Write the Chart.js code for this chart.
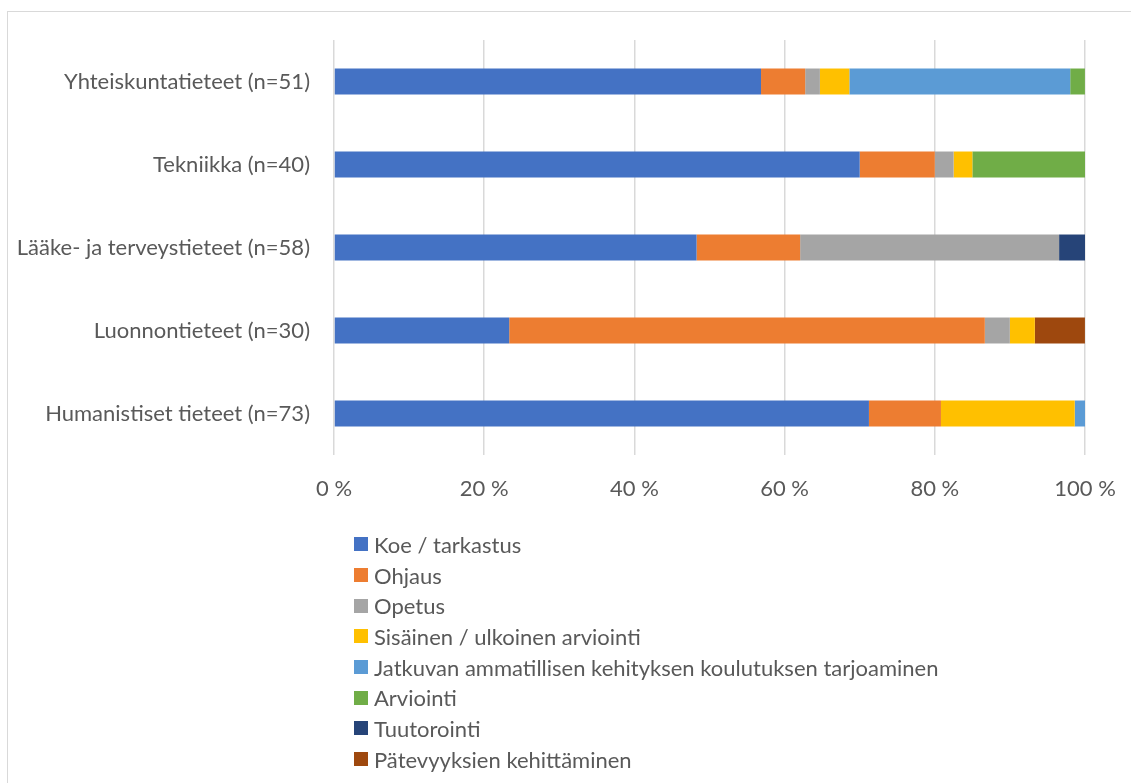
<!DOCTYPE html>
<html>
<head>
<meta charset="utf-8">
<script src="https://cdn.jsdelivr.net/npm/chart.js@4"></script>
<style>
  html, body { margin: 0; padding: 0; background: #fff; }
  body { width: 1131px; height: 783px; position: relative; overflow: hidden; font-family: Lato, "Open Sans", sans-serif; }
  #frame { position: absolute; left: 7px; top: 11px; width: 1140px; height: 800px; border: 1px solid #d9d9d9; box-sizing: border-box; }
  #wrap { position: absolute; left: 0; top: 0; width: 1131px; height: 783px; }
  #legend { position: absolute; left: 354px; top: 529px; color: #595959; font-size: 22px; }
  .item { height: 30.7px; display: flex; align-items: center; white-space: nowrap; }
  .box { width: 14px; height: 14px; margin-right: 6px; flex: none; }
</style>
</head>
<body>
<div id="frame"></div>
<div id="wrap"><canvas id="c" width="1131" height="783"></canvas></div>
<div id="legend"></div>
<script>
const categories = [
  "Yhteiskuntatieteet (n=51)",
  "Tekniikka (n=40)",
  "Lääke- ja terveystieteet (n=58)",
  "Luonnontieteet (n=30)",
  "Humanistiset tieteet (n=73)"
];
const seriesNames = [
  "Koe / tarkastus",
  "Ohjaus",
  "Opetus",
  "Sisäinen / ulkoinen arviointi",
  "Jatkuvan ammatillisen kehityksen koulutuksen tarjoaminen",
  "Arviointi",
  "Tuutorointi",
  "Pätevyyksien kehittäminen"
];
const koeTarkastus   = [56.86, 70.0, 48.28, 23.33, 71.23];
const ohjaus         = [5.88, 10.0, 13.79, 63.33, 9.59];
const opetus         = [1.96, 2.5, 34.48, 3.33, 0];
const sisUlkArv      = [3.92, 2.5, 0, 3.33, 17.81];
const jatkuvan       = [29.41, 0, 0, 0, 1.37];
const arviointi      = [1.96, 15.0, 0, 0, 0];
const tuutorointi    = [0, 0, 3.45, 0, 0];
const patevyyksien   = [0, 0, 0, 6.67, 0];
const tickValues = [0, 20, 40, 60, 80, 100];

const seriesValues = [koeTarkastus, ohjaus, opetus, sisUlkArv, jatkuvan, arviointi, tuutorointi, patevyyksien];
const colors = ["#4472C4", "#ED7D31", "#A5A5A5", "#FFC000", "#5B9BD5", "#70AD47", "#264478", "#9E480E"];

const datasets = seriesNames.map((name, i) => ({
  label: name,
  data: seriesValues[i],
  backgroundColor: colors[i],
  borderWidth: 0,
  categoryPercentage: 1,
  barPercentage: 0.313
}));

const FONT = { family: "Lato, 'Open Sans', sans-serif", size: 22 };
const TXT = "#595959";

const chart = new Chart(document.getElementById("c"), {
  type: "bar",
  data: { labels: categories, datasets },
  options: {
    indexAxis: "y",
    responsive: false,
    animation: false,
    layout: { padding: { left: 0, right: 46, top: 40, bottom: 268 } },
    plugins: { legend: { display: false }, tooltip: { enabled: false } },
    scales: {
      x: {
        stacked: true,
        min: 0, max: 100,
        afterBuildTicks: s => { s.ticks = tickValues.map(v => ({ value: v })); },
        afterFit: s => { s.height = 60; s.paddingLeft = 0; s.paddingRight = 0; },
        grid: { color: "#d9d9d9", lineWidth: 1.5, drawTicks: false },
        border: { display: false },
        ticks: { color: TXT, font: FONT, padding: 21, maxRotation: 0, callback: v => v + " %" }
      },
      y: {
        stacked: true,
        afterFit: s => { s.width = 334; s.paddingTop = 0; s.paddingBottom = 0; },
        grid: { display: false, drawTicks: false },
        border: { display: false },
        ticks: { color: TXT, font: FONT, padding: 24 }
      }
    }
  }
});

const legend = document.getElementById("legend");
chart.data.datasets.forEach(ds => {
  const it = document.createElement("div");
  it.className = "item";
  const b = document.createElement("span");
  b.className = "box";
  b.style.background = ds.backgroundColor;
  const t = document.createElement("span");
  t.textContent = ds.label;
  it.appendChild(b); it.appendChild(t);
  legend.appendChild(it);
});
</script>
</body>
</html>
